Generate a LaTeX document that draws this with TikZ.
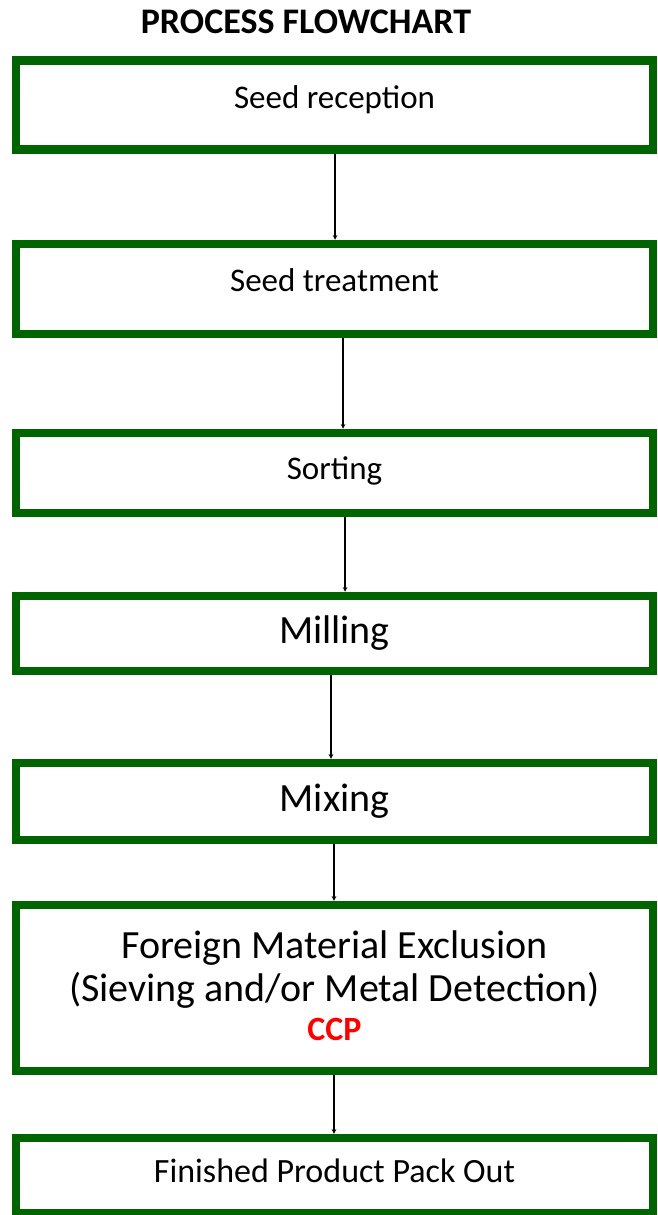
\documentclass[tikz,border=0pt]{standalone}
\usepackage{fontspec}
\setmainfont{Carlito}
\definecolor{boxgreen}{RGB}{0,100,0}
\begin{document}
\begin{tikzpicture}[x=1pt, y=-1pt, >=stealth,
    stepbox/.style={draw=boxgreen, line width=8.5pt, line join=miter,
      minimum width=637pt, minimum height=#1, inner sep=0pt, align=center},
    flow/.style={->, line width=1.1pt}]
  \def\cx{334.5}
  \useasboundingbox (0,0) rectangle (658,1215);
  \clip (0,0) rectangle (658,1215);
  % title
  \node[font=\bfseries\fontsize{36}{40}\selectfont] (title) at (306,22) {PROCESS FLOWCHART};
  % steps
  \node[stepbox=88.5pt, text depth=16pt, font=\fontsize{33}{40}\selectfont] (reception) at (\cx,105) {Seed reception};
  \node[stepbox=90pt, text depth=18pt, font=\fontsize{33}{40}\selectfont] (treatment) at (\cx,289) {Seed treatment};
  \node[stepbox=80pt, text depth=10pt, font=\fontsize{33}{40}\selectfont] (sorting) at (\cx,473) {Sorting};
  \node[stepbox=75pt, font=\fontsize{40}{44}\selectfont] (milling) at (\cx,633.5) {Milling};
  \node[stepbox=77pt, font=\fontsize{40}{44}\selectfont] (mixing) at (\cx,801.5) {Mixing};
  \node[stepbox=166pt, text depth=5pt, font=\fontsize{40}{43}\selectfont] (exclusion) at (\cx,988)
    {Foreign Material Exclusion\\(Sieving and/or Metal Detection)\\[-4pt]%
     {\bfseries\color{red}\fontsize{34}{40}\selectfont CCP}};
  \node[stepbox=75pt, text depth=10pt, font=\fontsize{34}{40}\selectfont] (packout) at (\cx,1175.5) {Finished Product Pack Out};
  % arrows
  \foreach \a/\b/\s in {reception/treatment/0.5, treatment/sorting/8.5,
      sorting/milling/10.5, milling/mixing/-3.5, mixing/exclusion/-0.5,
      exclusion/packout/-0.5}
    \draw[flow] ([xshift=\s pt]\a.south) -- ([xshift=\s pt]\b.north);
\end{tikzpicture}
\end{document}
